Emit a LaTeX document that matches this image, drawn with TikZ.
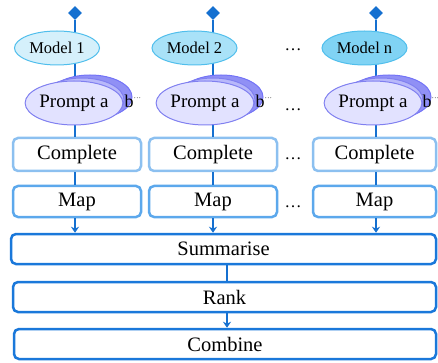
\documentclass[tikz,border=0pt]{standalone}
\usepackage{fontspec}
\setmainfont{Liberation Serif}
\usepackage{tikz}
\usetikzlibrary{shapes.geometric,arrows.meta,positioning}

\definecolor{flow}{RGB}{21,112,208}
\definecolor{modela}{RGB}{213,240,251}
\definecolor{modelb}{RGB}{169,226,248}
\definecolor{modelc}{RGB}{128,211,244}
\definecolor{modeledge}{RGB}{80,190,236}
\definecolor{promptfront}{RGB}{226,226,255}
\definecolor{promptmid}{RGB}{184,184,250}
\definecolor{promptback}{RGB}{144,144,245}
\definecolor{promptedge}{RGB}{128,128,240}
\definecolor{completeedge}{RGB}{140,192,240}
\definecolor{mapedge}{RGB}{92,168,236}
\definecolor{stageedge}{RGB}{26,120,218}

\tikzset{
  link/.style={flow,line width=2pt},
  arrowlink/.style={link,-{Stealth[length=6pt,width=8pt]}},
  input/.style={diamond,fill=flow,inner sep=0pt,minimum size=14pt},
  model/.style={ellipse,draw=modeledge,line width=1pt,inner sep=0pt,
    minimum width=85pt,minimum height=34pt,font=\fontsize{16.5}{18}\selectfont},
  prompt/.style={ellipse,draw=promptedge,line width=1pt,inner sep=0pt,
    minimum width=84pt,minimum height=44pt,font=\fontsize{19}{21}\selectfont},
  rest/.style={inner sep=0pt,anchor=base west,font=\fontsize{18}{20}\selectfont},
  box/.style={draw,rounded corners=5pt,line width=2.5pt,inner sep=0pt,
    font=\fontsize{20.5}{22}\selectfont},
  complete/.style={box,draw=completeedge,minimum width=128pt,minimum height=33pt},
  mapbox/.style={box,draw=mapedge,minimum width=128pt,minimum height=31pt},
  stage/.style={box,draw=stageedge,minimum height=30pt},
  more/.style={font=\fontsize{17}{18}\selectfont}
}

\begin{document}
\begin{tikzpicture}[x=1pt,y=-1pt]
    \useasboundingbox (0,0) rectangle (438,363);

    % inputs and the first steps
    \node[input] (in_1) at (75,13) {};
    \node[input] (in_2) at (213,13) {};
    \node[input] (in_n) at (376,13) {};
    \node[complete] (complete_1) at (77,154.5) {Complete};
    \node[complete] (complete_2) at (213,154.5) {Complete};
    \node[complete,minimum width=123pt] (complete_n) at (374.5,154.5) {Complete};
    \node[mapbox] (map_1) at (77,201.5) {Map};
    \node[mapbox] (map_2) at (213,201.5) {Map};
    \node[mapbox,minimum width=123pt] (map_n) at (374.5,201.5) {Map};

    % shared stages
    \node[stage,minimum width=425pt] (summarise) at (223.5,249) {Summarise};
    \node[stage,minimum width=423pt] (rank) at (224.5,297) {Rank};
    \node[stage,minimum width=422pt] (combine) at (225,344) {Combine};
    \coordinate (spine) at (227,0);

    \draw[link] (in_1.south) -- (in_1.south |- complete_1.north);
    \draw[link] (in_2.south) -- (in_2.south |- complete_2.north);
    \draw[link] (in_n.south) -- (in_n.south |- complete_n.north);
    \draw[link] (in_1 |- complete_1.south) -- (in_1 |- map_1.north);
    \draw[link] (in_2 |- complete_2.south) -- (in_2 |- map_2.north);
    \draw[link] (in_n |- complete_n.south) -- (in_n |- map_n.north);
    \draw[arrowlink] (in_1 |- map_1.south) -- (in_1 |- summarise.north);
    \draw[arrowlink] (in_2 |- map_2.south) -- (in_2 |- summarise.north);
    \draw[arrowlink] (in_n |- map_n.south) -- (in_n |- summarise.north);
    \draw[link] (spine |- summarise.south) -- (spine |- rank.north);
    \draw[arrowlink] (spine |- rank.south) -- (spine |- combine.north);

    % models
    \node[model,fill=modela] (model_1) at (57,48) {Model 1};
    \node[model,fill=modelb] (model_2) at (194.5,48) {Model 2};
    \node[model,fill=modelc] (model_n) at (364.5,48) {Model n};

    % prompt stacks
    \node[prompt,fill=promptback,draw=promptback!80!blue] (back_1) at (90,97) {};
    \node[prompt,fill=promptmid] (mid_1) at (82,100) {};
    \node[prompt,fill=promptfront] (prompt_1) at (74,103) {Prompt a};
    \node[prompt,fill=promptback,draw=promptback!80!blue] (back_2) at (221,97) {};
    \node[prompt,fill=promptmid] (mid_2) at (213,100) {};
    \node[prompt,fill=promptfront] (prompt_2) at (205,103) {Prompt a};
    \node[prompt,fill=promptback,draw=promptback!80!blue] (back_n) at (389,97) {};
    \node[prompt,fill=promptmid] (mid_n) at (381,100) {};
    \node[prompt,fill=promptfront] (prompt_n) at (373,103) {Prompt a};
    \node[rest] (rest_1) at ([xshift=1pt]prompt_1.east |- prompt_1.base) {b$^{\scriptscriptstyle\cdots}$};
    \node[rest] (rest_2) at ([xshift=1pt]prompt_2.east |- prompt_2.base) {b$^{\scriptscriptstyle\cdots}$};
    \node[rest] (rest_n) at ([xshift=0pt]prompt_n.east |- prompt_n.base) {b$^{\scriptscriptstyle\cdots}$};

    % more columns
    \node[more] (more_model) at (293,50) {\dots};
    \node[more] (more_prompt) at (293,110) {\dots};
    \node[more] (more_complete) at (293,159) {\dots};
    \node[more] (more_map) at (293,207) {\dots};
\end{tikzpicture}
\end{document}
